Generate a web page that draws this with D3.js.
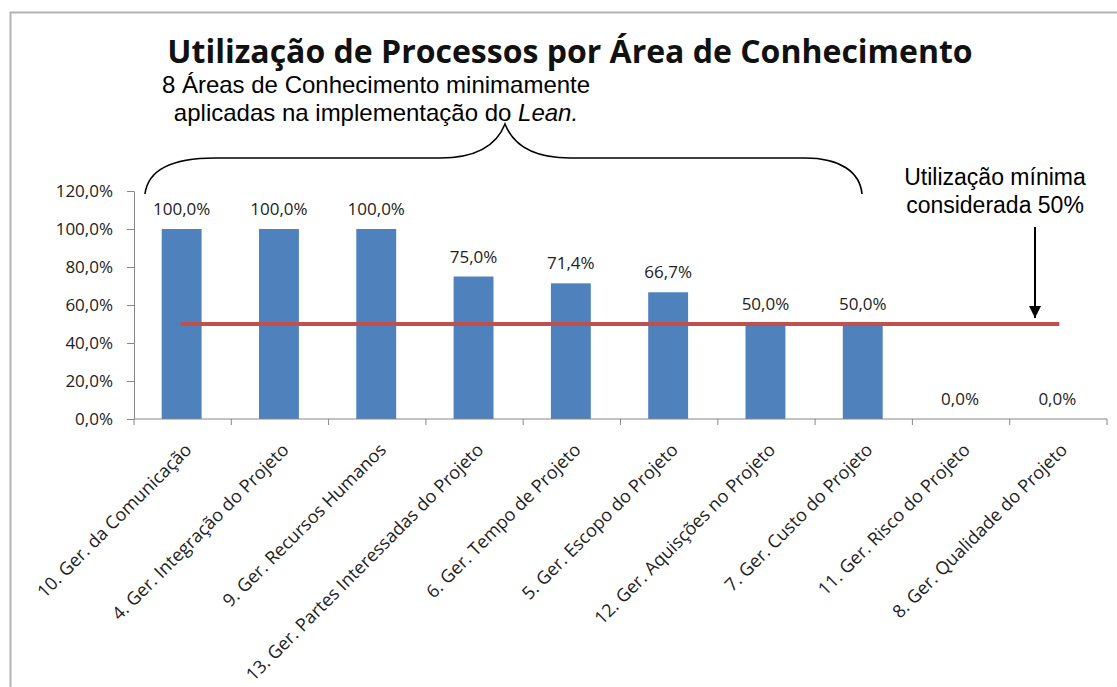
<!DOCTYPE html>
<html>
<head>
<meta charset="utf-8">
<script src="https://cdn.jsdelivr.net/npm/d3@7"></script>
<style>
  body { margin: 0; background: #fff; }
  svg { display: block; }
</style>
</head>
<body>
<svg id="main-chart"></svg>
<script>
// data
const categories = [
  "10. Ger. da Comunicação",
  "4. Ger. Integração do Projeto",
  "9. Ger. Recursos Humanos",
  "13. Ger. Partes Interessadas do Projeto",
  "6. Ger. Tempo de Projeto",
  "5. Ger. Escopo do Projeto",
  "12. Ger. Aquisções no Projeto",
  "7. Ger. Custo do Projeto",
  "11. Ger. Risco do Projeto",
  "8. Ger. Qualidade do Projeto"
];
const utilizacao = [100.0, 100.0, 100.0, 75.0, 71.4, 66.7, 50.0, 50.0, 0.0, 0.0];
const minimo = 50;
const yTicks = [0, 20, 40, 60, 80, 100, 120];

const width = 1117;
const height = 687;
const margin = ({top: 191, right: 10, bottom: 268, left: 134});
const plotRight = 1107;

const fmt = v => v.toFixed(1).replace(".", ",") + "%";
const labelFont = "'Open Sans', 'DejaVu Sans', sans-serif";
const noteFont = "'Liberation Sans', Arial, sans-serif";
const labelSize = 17;

const svg = d3.select("#main-chart")
  .attr("width", width)
  .attr("height", height);

// frame (only top and left edges visible)
svg.append("path")
  .attr("d", "M10.5,687 L10.5,12.5 L1117,12.5")
  .attr("fill", "none")
  .attr("stroke", "#b3b3b3")
  .attr("stroke-width", 2);

const x = d3.scaleBand()
  .domain(d3.range(categories.length))
  .range([margin.left, plotRight]);

const y = d3.scaleLinear()
  .domain([0, 120])
  .range([height - margin.bottom, margin.top]);

const barW = x.bandwidth() * 0.41;

// bars
svg.selectAll(".bar")
  .data(utilizacao)
  .join("rect")
  .attr("class", "bar")
  .attr("fill", "#4f81bd")
  .attr("x", (d, i) => x(i) + x.bandwidth() / 2 - barW / 2 - 1)
  .attr("y", d => y(d))
  .attr("width", barW)
  .attr("height", d => y(0) - y(d));

// value labels
svg.selectAll(".vlabel")
  .data(utilizacao)
  .join("text")
  .attr("class", "vlabel")
  .attr("x", (d, i) => x(i) + x.bandwidth() / 2 - 1)
  .attr("y", d => y(d) - 14)
  .attr("text-anchor", "middle")
  .attr("font-family", labelFont)
  .attr("font-size", labelSize)
  .attr("fill", "#222")
  .text(d => fmt(d));

// minimum line
svg.append("line")
  .attr("x1", x(0) + x.bandwidth() / 2 - 2)
  .attr("x2", x(categories.length - 1) + x.bandwidth() / 2 + 1)
  .attr("y1", y(minimo))
  .attr("y2", y(minimo))
  .attr("stroke", "#c0504d")
  .attr("stroke-width", 4);

// y axis
const yAxis = g => g
  .attr("transform", `translate(${margin.left},0)`)
  .call(d3.axisLeft(y).tickValues(yTicks).tickFormat(fmt).tickSize(7).tickSizeOuter(0))
  .call(g => g.select(".domain").attr("stroke", "#868686"))
  .call(g => g.selectAll(".tick line").attr("stroke", "#868686"))
  .call(g => g.selectAll(".tick text")
    .attr("x", -21)
    .attr("font-family", labelFont)
    .attr("font-size", labelSize)
    .attr("fill", "#222"));

// x axis with tick marks at category boundaries
const xAxis = g => g
  .attr("transform", `translate(0,${y(0)})`)
  .call(g => g.append("line")
    .attr("x1", margin.left).attr("x2", plotRight)
    .attr("stroke", "#868686"))
  .call(g => g.selectAll(".xt")
    .data(d3.range(categories.length + 1))
    .join("line")
    .attr("class", "xt")
    .attr("x1", i => i < categories.length ? x(i) : plotRight)
    .attr("x2", i => i < categories.length ? x(i) : plotRight)
    .attr("y1", 0).attr("y2", 6)
    .attr("stroke", "#868686"))
  .call(g => g.selectAll(".xl")
    .data(categories)
    .join("text")
    .attr("class", "xl")
    .attr("text-anchor", "end")
    .attr("font-family", labelFont)
    .attr("font-size", 18)
    .attr("fill", "#222")
    .attr("transform", (d, i) => `translate(${x(i) + x.bandwidth() / 2 + 10},${32}) rotate(-45)`)
    .text(d => d));

svg.append("g").call(yAxis);
svg.append("g").call(xAxis);

// title
svg.append("text")
  .attr("x", 570)
  .attr("y", 63)
  .attr("text-anchor", "middle")
  .attr("font-family", labelFont)
  .attr("font-weight", "bold")
  .attr("font-size", 32)
  .attr("fill", "#111")
  .text("Utilização de Processos por Área de Conhecimento");

// brace annotation
svg.append("text")
  .attr("x", 376)
  .attr("y", 93)
  .attr("text-anchor", "middle")
  .attr("font-family", noteFont)
  .attr("font-size", 24)
  .text("8 Áreas de Conhecimento minimamente");

const l2 = svg.append("text")
  .attr("x", 376)
  .attr("y", 121)
  .attr("text-anchor", "middle")
  .attr("font-family", noteFont)
  .attr("font-size", 24);
l2.append("tspan").text("aplicadas na implementação do ");
l2.append("tspan").attr("font-style", "italic").text("Lean.");

const brace = d3.path();
brace.moveTo(145, 194);
brace.bezierCurveTo(148, 170, 170, 158, 215, 158);
brace.lineTo(440, 158);
brace.bezierCurveTo(480, 158, 498, 142, 505, 124);
brace.bezierCurveTo(512, 142, 530, 158, 570, 158);
brace.lineTo(805, 158);
brace.bezierCurveTo(840, 158, 860, 172, 862, 194);
svg.append("path")
  .attr("d", brace.toString())
  .attr("fill", "none")
  .attr("stroke", "#000")
  .attr("stroke-width", 1.6);

// minimum annotation
svg.append("text")
  .attr("x", 995)
  .attr("y", 185)
  .attr("text-anchor", "middle")
  .attr("font-family", noteFont)
  .attr("font-size", 23)
  .text("Utilização mínima");
svg.append("text")
  .attr("x", 995)
  .attr("y", 213)
  .attr("text-anchor", "middle")
  .attr("font-family", noteFont)
  .attr("font-size", 23)
  .text("considerada 50%");

svg.append("defs").append("marker")
  .attr("id", "arrow")
  .attr("viewBox", "0 0 10 10")
  .attr("refX", 10).attr("refY", 5)
  .attr("markerWidth", 6).attr("markerHeight", 6)
  .attr("markerUnits", "strokeWidth")
  .attr("orient", "auto")
  .append("path")
  .attr("d", "M0,0 L10,5 L0,10 Z")
  .attr("fill", "#000");

svg.append("line")
  .attr("x1", 1035).attr("x2", 1035)
  .attr("y1", 227).attr("y2", y(minimo) - 6)
  .attr("stroke", "#000")
  .attr("stroke-width", 2)
  .attr("marker-end", "url(#arrow)");
</script>
</body>
</html>
